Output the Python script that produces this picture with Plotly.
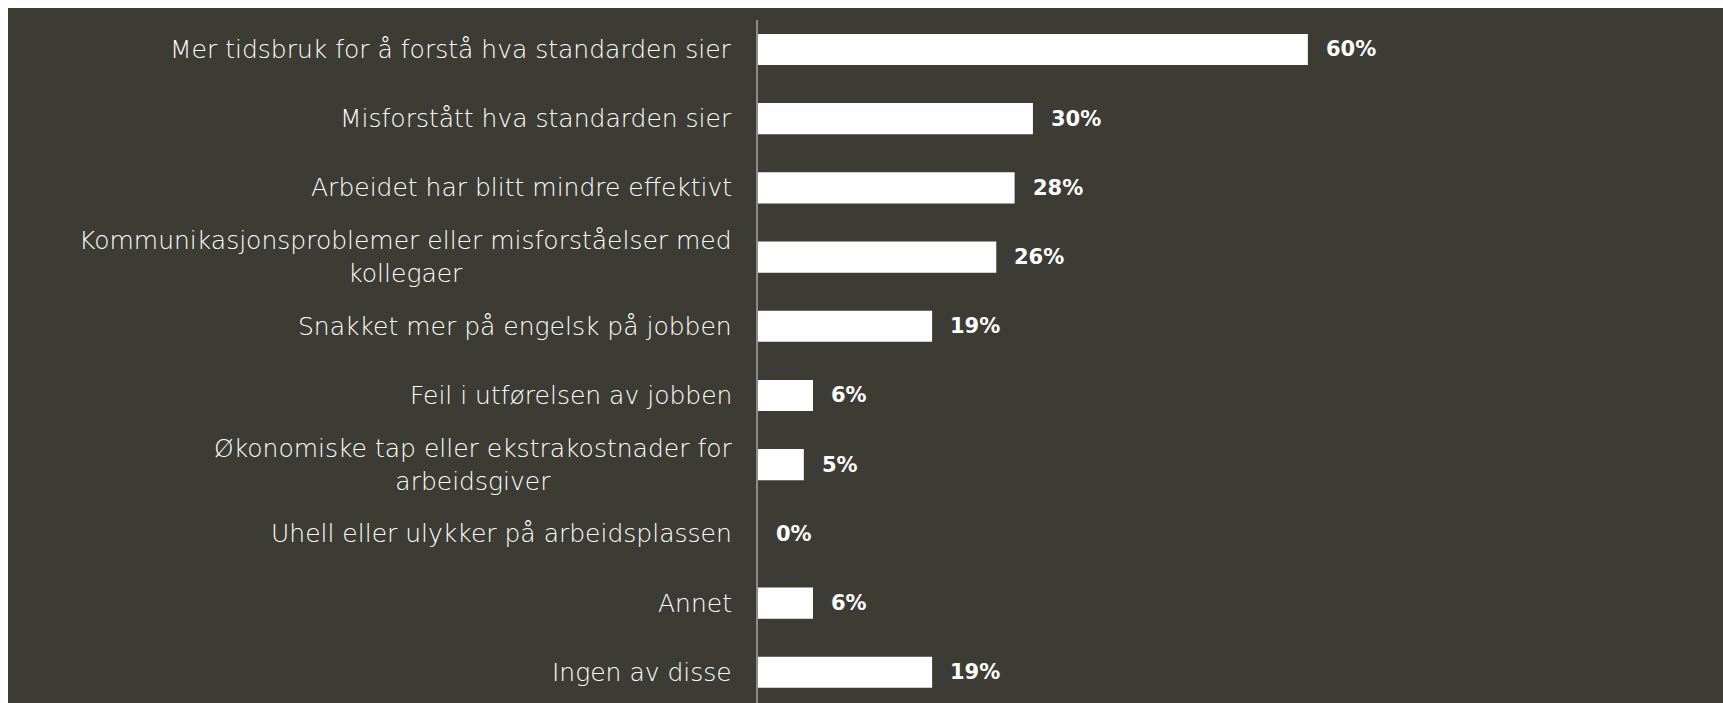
import plotly.graph_objects as go

categories = [
    "Mer tidsbruk for å forstå hva standarden sier",
    "Misforstått hva standarden sier",
    "Arbeidet har blitt mindre effektivt",
    "Kommunikasjonsproblemer eller misforståelser med<br>kollegaer",
    "Snakket mer på engelsk på jobben",
    "Feil i utførelsen av jobben",
    "Økonomiske tap eller ekstrakostnader for<br>arbeidsgiver",
    "Uhell eller ulykker på arbeidsplassen",
    "Annet",
    "Ingen av disse",
]
values = [60, 30, 28, 26, 19, 6, 5, 0, 6, 19]
value_labels = ["60%", "30%", "28%", "26%", "19%", "6%", "5%", "0%", "6%", "19%"]

BG = "#3c3c34"
FONT = "DejaVu Sans"

fig = go.Figure()
fig.add_trace(go.Bar(
    y=list(range(len(categories))),
    x=values,
    orientation="h",
    marker=dict(color="#ffffff", line=dict(width=0)),
    width=0.45,
    hoverinfo="skip",
))

annotations = []
for i, (cat, v, lab) in enumerate(zip(categories, values, value_labels)):
    annotations.append(dict(
        x=v, y=i, xref="x", yref="y", text=lab, showarrow=False,
        xanchor="left", yanchor="middle", xshift=16,
        font=dict(family=FONT, size=21, color="#ffffff", weight="bold"),
    ))
    annotations.append(dict(
        x=0, y=i, xref="paper", yref="y", text=cat, showarrow=False,
        xanchor="right", yanchor="middle", align="center", xshift=-24,
        font=dict(family=FONT, size=25, color="#ffffff", weight=300),
    ))

fig.update_layout(
    width=1715, height=695,
    paper_bgcolor=BG, plot_bgcolor=BG,
    margin=dict(l=750, r=0, t=12, b=0, pad=0),
    showlegend=False,
    annotations=annotations,
    xaxis=dict(range=[0, 105.3], showgrid=False, zeroline=False,
               showticklabels=False, showline=False, fixedrange=True),
    yaxis=dict(range=[9.444, -0.426], showgrid=False, zeroline=False,
               showticklabels=False, showline=True, linecolor="#8c8c8c",
               linewidth=2, fixedrange=True),
)

fig.write_html(
    "out.html",
    config={"displayModeBar": False},
    post_script=(
        "document.body.style.margin='8px 0 0 8px';"
        "document.documentElement.style.overflow='hidden';"
        "document.body.style.overflow='hidden';"
    ),
)
